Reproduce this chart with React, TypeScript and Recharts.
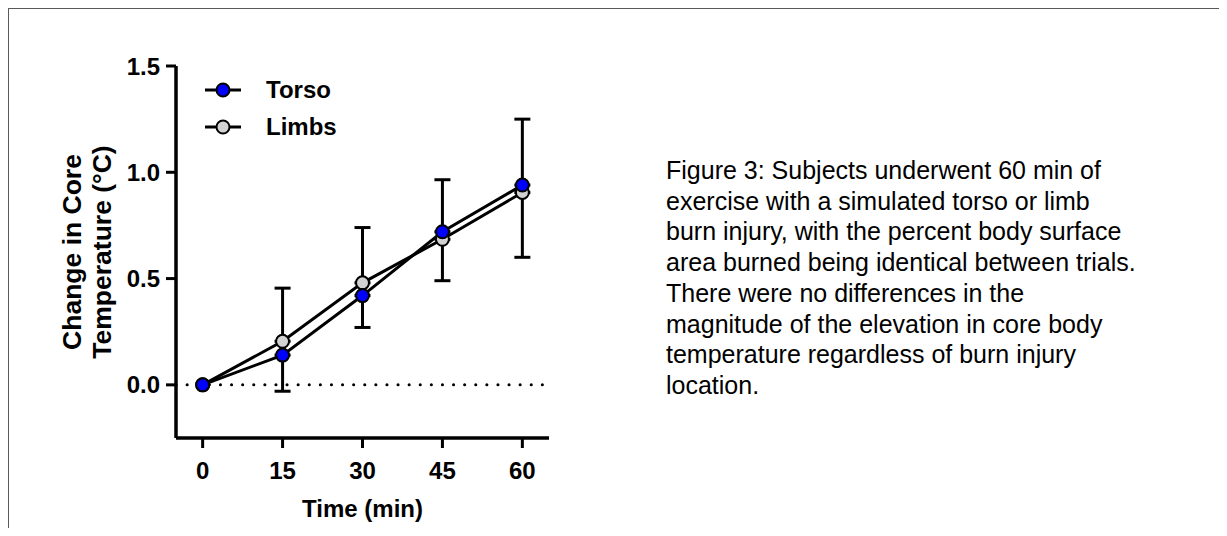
import React from 'react';
import {
  LineChart,
  Line,
  XAxis,
  YAxis,
  ErrorBar,
  ReferenceLine,
} from 'recharts';

const times = [0, 15, 30, 45, 60];
const torso = [0, 0.14, 0.42, 0.72, 0.94];
const limbs = [0, 0.205, 0.48, 0.685, 0.905];
// GraphPad style: one-sided SD bars (limbs up, torso down)
const limbsSdUp = [null, 0.25, 0.26, 0.28, 0.345];
const torsoSdDown = [null, 0.17, 0.15, 0.23, 0.34];
const yTicks = [0, 0.5, 1.0, 1.5];
const captionLines = [
  'Figure 3: Subjects underwent 60 min of',
  'exercise with a simulated torso or limb',
  'burn injury, with the percent body surface',
  'area burned being identical between trials.',
  'There were no differences in the',
  'magnitude of the elevation in core body',
  'temperature regardless of burn injury',
  'location.',
];

const data = times.map((t, i) => ({
  time: t,
  torso: torso[i],
  limbs: limbs[i],
  torsoErr: torsoSdDown[i] == null ? null : [torsoSdDown[i], 0],
  limbsErr: limbsSdUp[i] == null ? null : [0, limbsSdUp[i]],
}));

const FONT = '"Liberation Sans", Arial, sans-serif';

const legendItems = [
  { name: 'Torso', fill: '#0000ff' },
  { name: 'Limbs', fill: '#d2d2d2' },
];

// drawn outside the chart so it doesn't eat into the plot area
function ChartLegend() {
  return (
    <div
      style={{
        position: 'absolute',
        left: 197,
        top: 63,
        fontFamily: FONT,
        fontWeight: 700,
        fontSize: 24,
        color: '#000',
      }}
    >
      {legendItems.map((it) => (
        <div key={it.name} style={{ display: 'flex', alignItems: 'center', height: 37 }}>
          <svg width={40} height={20} style={{ marginRight: 21 }}>
            <line x1={0} y1={10} x2={36} y2={10} stroke="#000" strokeWidth={3} />
            <circle cx={18} cy={10} r={6.5} fill={it.fill} stroke="#000" strokeWidth={2} />
          </svg>
          <span>{it.name}</span>
        </div>
      ))}
    </div>
  );
}

function YLabel({ viewBox }: any) {
  const cy = viewBox.y + viewBox.height / 2;
  const style = { fontFamily: FONT, fontWeight: 700, fontSize: 26.5, fill: '#000' };
  return (
    <g>
      <text x={64} y={cy} transform={`rotate(-90, 64, ${cy})`} textAnchor="middle" dominantBaseline="central" style={style}>
        Change in Core
      </text>
      <text x={94} y={cy} transform={`rotate(-90, 94, ${cy})`} textAnchor="middle" dominantBaseline="central" style={style}>
        Temperature (°C)
      </text>
    </g>
  );
}

function XLabel({ viewBox }: any) {
  const cx = viewBox.x + viewBox.width / 2;
  return (
    <text x={cx} y={500} textAnchor="middle" dominantBaseline="central"
      style={{ fontFamily: FONT, fontWeight: 700, fontSize: 24, fill: '#000' }}>
      Time (min)
    </text>
  );
}

const tickStyle = { fontFamily: FONT, fontWeight: 700, fontSize: 24, fill: '#000' };

export default function App() {
  return (
    <div style={{ position: 'relative', width: 1211, height: 520 }}>
      <div
        style={{
          position: 'absolute',
          left: -1,
          top: -1,
          width: 1210,
          height: 519,
          borderTop: '2px solid #595959',
          borderLeft: '2px solid #595959',
        }}
      />
      <div style={{ position: 'absolute', left: 0, top: 0 }}>
        <LineChart width={620} height={520} data={data} margin={{ top: 58, right: 79, bottom: 40, left: 0 }}>
          <XAxis
            dataKey="time"
            type="number"
            domain={[-5, 65]}
            ticks={times}
            interval={0}
            height={50}
            axisLine={{ stroke: '#000', strokeWidth: 3.5 }}
            tickLine={{ stroke: '#000', strokeWidth: 3 }}
            tickSize={10}
            tickMargin={14}
            tick={tickStyle}
            label={<XLabel />}
          />
          <YAxis
            type="number"
            domain={[-0.25, 1.5]}
            ticks={yTicks}
            interval={0}
            width={168}
            axisLine={{ stroke: '#000', strokeWidth: 3.5 }}
            tickLine={{ stroke: '#000', strokeWidth: 3 }}
            tickSize={10}
            tickMargin={6}
            tick={tickStyle}
            tickFormatter={(v: number) => v.toFixed(1)}
            label={<YLabel />}
          />
          <ReferenceLine y={0} stroke="#000" strokeWidth={3} strokeDasharray="0.1 11" strokeLinecap="round" />
          <Line
            dataKey="limbs"
            type="linear"
            stroke="#000"
            strokeWidth={3}
            isAnimationActive={false}
            dot={{ r: 6.5, fill: '#d2d2d2', stroke: '#000', strokeWidth: 2 }}
          >
            <ErrorBar dataKey="limbsErr" direction="y" width={8} stroke="#000" strokeWidth={3} />
          </Line>
          <Line
            dataKey="torso"
            type="linear"
            stroke="#000"
            strokeWidth={3}
            isAnimationActive={false}
            dot={{ r: 6.5, fill: '#0000ff', stroke: '#000', strokeWidth: 2 }}
          >
            <ErrorBar dataKey="torsoErr" direction="y" width={8} stroke="#000" strokeWidth={3} />
          </Line>
        </LineChart>
      </div>
      <ChartLegend />
      <div
        style={{
          position: 'absolute',
          left: 658,
          top: 147,
          fontFamily: FONT,
          fontSize: 25,
          lineHeight: '30.7px',
          color: '#000',
          whiteSpace: 'nowrap',
        }}
      >
        {captionLines.map((l) => (
          <div key={l}>{l}</div>
        ))}
      </div>
    </div>
  );
}
